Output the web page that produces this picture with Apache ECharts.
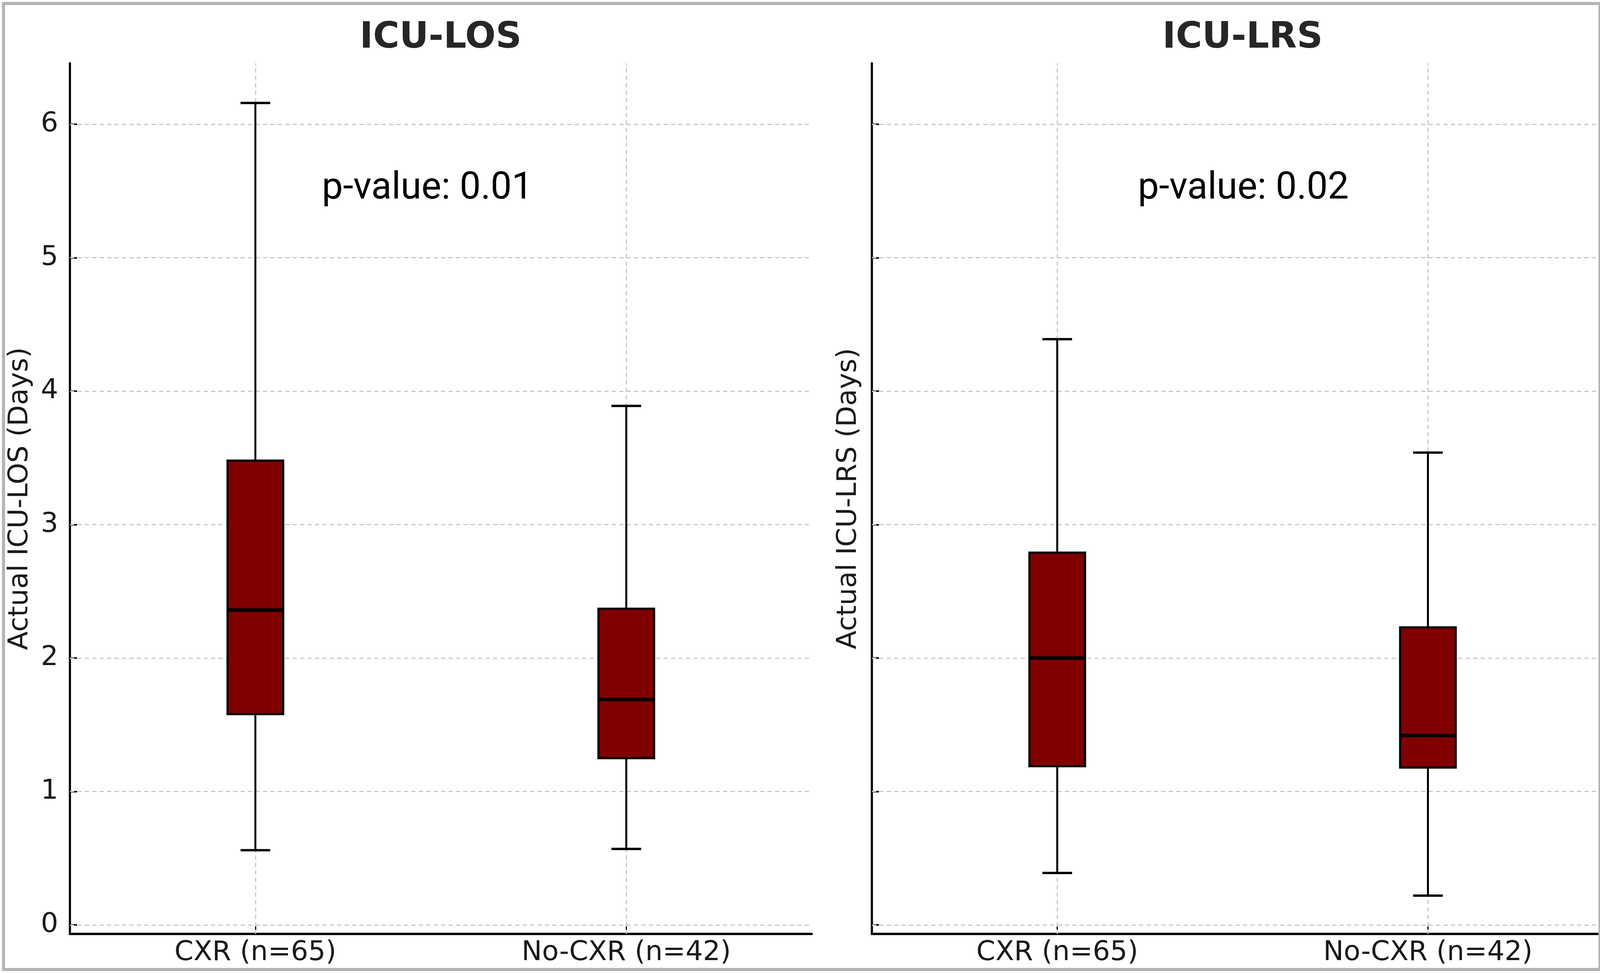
<!DOCTYPE html>
<html>
<head>
<meta charset="utf-8">
<script src="https://cdn.jsdelivr.net/npm/echarts@6/dist/echarts.min.js"></script>
<style>html,body{margin:0;padding:0;background:#fff}#c{width:4104px;height:2490px}</style>
</head>
<body>
<div id="c"></div>
<script>
// ---- data (box stats: [lower whisker, Q1, median, Q3, upper whisker]) ----
const categories = ['CXR (n=65)', 'No-CXR (n=42)'];
const losCXR   = [0.56, 1.58, 2.36, 3.48, 6.16];
const losNoCXR = [0.57, 1.25, 1.69, 2.37, 3.89];
const lrsCXR   = [0.39, 1.19, 2.00, 2.79, 4.39];
const lrsNoCXR = [0.22, 1.18, 1.42, 2.23, 3.54];
const yTicks = [0, 1, 2, 3, 4, 5, 6];
const yMin = -0.067, yMax = 6.457;
const panelTitles = ['ICU-LOS', 'ICU-LRS'];
const yNames = ['Actual ICU-LOS (Days)', 'Actual ICU-LRS (Days)'];
const pTexts = ['p-value: 0.01', 'p-value: 0.02'];

const FONT = 'DejaVu Sans';
const chart = echarts.init(document.getElementById('c'), null, {renderer: 'canvas'});

function renderBox(params, api) {
  const x = api.value(0);
  const lo = api.coord([x, api.value(1)]);
  const q1 = api.coord([x, api.value(2)]);
  const md = api.coord([x, api.value(3)]);
  const q3 = api.coord([x, api.value(4)]);
  const hi = api.coord([x, api.value(5)]);
  const band = api.size([1, 0])[0];
  const bw = band * 0.15, cw = band * 0.08;
  const cx = lo[0];
  const lineStyle = (w) => ({stroke: '#000', lineWidth: w, fill: null});
  return {
    type: 'group',
    children: [
      {type: 'line', shape: {x1: cx, y1: q1[1], x2: cx, y2: lo[1]}, style: lineStyle(5)},
      {type: 'line', shape: {x1: cx, y1: q3[1], x2: cx, y2: hi[1]}, style: lineStyle(5)},
      {type: 'line', shape: {x1: cx - cw / 2, y1: lo[1], x2: cx + cw / 2, y2: lo[1]}, style: lineStyle(6)},
      {type: 'line', shape: {x1: cx - cw / 2, y1: hi[1], x2: cx + cw / 2, y2: hi[1]}, style: lineStyle(6)},
      {type: 'rect', shape: {x: cx - bw / 2, y: q3[1], width: bw, height: q1[1] - q3[1]},
        style: {fill: '#800000', stroke: '#000', lineWidth: 5.5}},
      {type: 'line', shape: {x1: cx - bw / 2, y1: md[1], x2: cx + bw / 2, y2: md[1]}, style: lineStyle(9)}
    ]
  };
}

const gridLineStyle = {color: '#c8c8c8', width: 3, type: [11, 8]};
function gridMarkLine() {
  return {
    silent: true, z: 1, symbol: ['none', 'none'], animation: false,
    label: {show: false}, lineStyle: gridLineStyle,
    data: yTicks.map(v => ({yAxis: v})).concat(categories.map(c => ({xAxis: c})))
  };
}

const panels = [[losCXR, losNoCXR], [lrsCXR, lrsNoCXR]];
const grids = [
  {left: 179, width: 1899, top: 162, height: 2228, outerBoundsMode: 'none', containLabel: false},
  {left: 2232, width: 1898, top: 162, height: 2228, outerBoundsMode: 'none', containLabel: false}
];

const xAxes = [0, 1].map(i => ({
  type: 'category', gridIndex: i, data: categories, boundaryGap: true,
  axisLine: {show: true, onZero: false, lineStyle: {color: '#000', width: 6}},
  axisTick: {show: true, inside: true, alignWithLabel: true, length: 20, lineStyle: {color: '#000', width: 3}},
  axisLabel: {fontFamily: FONT, fontSize: 70, color: '#1a1a1a', margin: 14},
  splitLine: {show: false}
}));

const yAxes = [0, 1].map(i => ({
  type: 'value', gridIndex: i, min: yMin, max: yMax,
  name: yNames[i], nameLocation: 'middle', nameGap: i === 0 ? 92 : 24,
  nameTextStyle: {fontFamily: FONT, fontSize: 70, color: '#1a1a1a'},
  axisLine: {show: true, onZero: false, lineStyle: {color: '#000', width: 5.5}},
  axisTick: {show: true, inside: true, length: 18, customValues: yTicks, lineStyle: {color: '#000', width: 4}},
  axisLabel: {show: i === 0, customValues: yTicks, fontFamily: FONT, fontSize: 70, color: '#1a1a1a', margin: 30},
  splitLine: {show: false}
}));

const series = [0, 1].map(i => ({
  type: 'custom', xAxisIndex: i, yAxisIndex: i, z: 2,
  renderItem: renderBox,
  encode: {x: 0, y: [1, 2, 3, 4, 5]},
  data: categories.map((c, k) => [c].concat(panels[i][k])),
  markLine: gridMarkLine()
}));

const graphics = [];
const titleX = [1128, 3181];
const pX = [1094, 3183];
for (let i = 0; i < 2; i++) {
  graphics.push({type: 'text', x: titleX[i], y: 98, z: 10,
    style: {text: panelTitles[i], font: 'bold 92px "DejaVu Sans"', fill: '#262626', textAlign: 'center', textVerticalAlign: 'middle'}});
  graphics.push({type: 'text', x: pX[i], y: 484, z: 10,
    style: {text: pTexts[i], font: '96px Roboto', fill: '#000', textAlign: 'center', textVerticalAlign: 'middle'}});
}
graphics.push({type: 'rect', z: 20, shape: {x: 4100, y: 0, width: 10, height: 2490}, style: {fill: '#fff'}});
graphics.push({type: 'rect', z: 21, shape: {x: 9, y: 9, width: 4087, height: 2472}, style: {fill: null, stroke: '#b5b5b5', lineWidth: 8}});

chart.setOption({
  animation: false,
  backgroundColor: '#fff',
  grid: grids,
  xAxis: xAxes,
  yAxis: yAxes,
  series: series,
  graphic: graphics
});
</script>
</body>
</html>
